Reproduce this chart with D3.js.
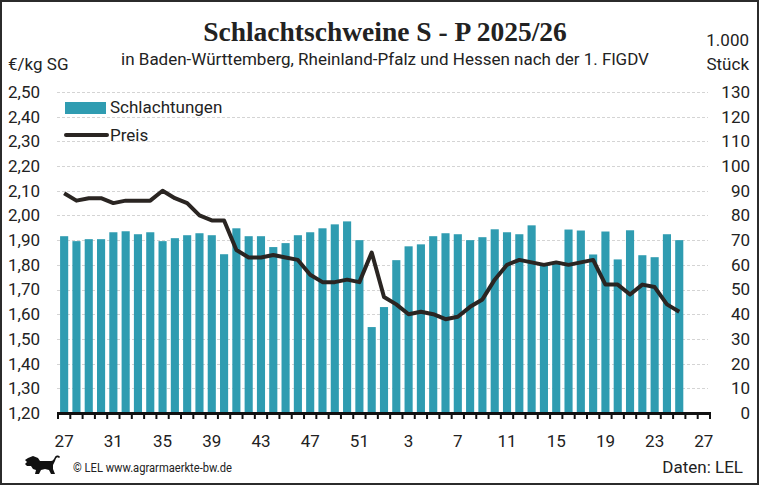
<!DOCTYPE html>
<html>
<head>
<meta charset="utf-8">
<script src="https://cdn.jsdelivr.net/npm/d3@7"></script>
<style>
  body { margin: 0; background: #fff; }
  svg { display: block; }
  text { font-family: Roboto, "Noto Sans", sans-serif; fill: #222; }
</style>
</head>
<body>
<div id="chart"></div>
<script>
// Kalenderwochen 27/2025 bis 27/2026
var weeks = ["27","28","29","30","31","32","33","34","35","36","37","38","39","40","41","42","43","44","45","46","47","48","49","50","51","52",
             "1","2","3","4","5","6","7","8","9","10","11","12","13","14","15","16","17","18","19","20","21","22","23","24","25","26","27"];

// Schlachtungen in 1.000 Stück
var schlachtungen = [71.6,69.6,70.4,70.4,73.2,73.6,72.4,73.2,69.6,70.8,72.0,72.8,72.0,64.3,74.8,71.6,71.6,67.2,68.8,72.0,73.2,74.8,76.4,77.6,70.0,34.8,
                     42.9,61.9,67.5,68.3,71.6,72.8,72.4,70.0,71.2,74.4,73.2,72.4,76.0,60.0,61.3,74.3,73.9,64.2,73.5,62.2,74.0,63.9,63.1,72.4,70.0];

// Preis in Euro/kg SG
var preis = [2.09,2.06,2.07,2.07,2.05,2.06,2.06,2.06,2.10,2.07,2.05,2.00,1.98,1.98,1.86,1.83,1.83,1.84,1.83,1.82,1.76,1.73,1.73,1.74,1.73,1.85,
             1.67,1.64,1.60,1.61,1.60,1.58,1.59,1.63,1.66,1.74,1.80,1.82,1.81,1.80,1.81,1.80,1.81,1.82,1.72,1.72,1.68,1.72,1.71,1.64,1.61];

var leftTicks = [1.2,1.3,1.4,1.5,1.6,1.7,1.8,1.9,2.0,2.1,2.2,2.3,2.4,2.5];
var rightTicks = [0,10,20,30,40,50,60,70,80,90,100,110,120,130];
var xTickWeeks = ["27","31","35","39","43","47","51","3","7","11","15","19","23","27"];

var width = 759, height = 485;
var plotLeft = 58, plotRight = 710, plotTop = 92, plotBottom = 413;
var fs = "17px";

var svg = d3.select("#chart").append("svg")
  .attr("width", width).attr("height", height);

svg.append("rect")
  .attr("x", 1).attr("y", 1).attr("width", width - 2).attr("height", height - 2)
  .attr("fill", "#fff").attr("stroke", "#2b2b2b").attr("stroke-width", 2);

var x = d3.scaleBand()
  .domain(d3.range(weeks.length))
  .range([plotLeft, plotRight])
  .paddingInner(0.34).paddingOuter(0.17);

var yLeft = d3.scaleLinear().domain([1.2, 2.5]).range([plotBottom, plotTop]);
var yRight = d3.scaleLinear().domain([0, 130]).range([plotBottom, plotTop]);

// gridlines
svg.append("g").selectAll("line")
  .data(leftTicks.slice(1))
  .enter().append("line")
  .attr("x1", plotLeft - 1).attr("x2", plotRight - 2)
  .attr("y1", function(d) { return Math.round(yLeft(d)) + 0.5; })
  .attr("y2", function(d) { return Math.round(yLeft(d)) + 0.5; })
  .attr("stroke", "#d4d4d4").attr("stroke-width", 1)
  .attr("stroke-dasharray", "3,2");

// left axis labels
var leftAxis = d3.axisLeft(yLeft).tickValues(leftTicks).tickSize(0).tickPadding(0)
  .tickFormat(function(d) { return d3.format(".2f")(d).replace(".", ","); });
var gl = svg.append("g").attr("transform", "translate(40,0)").call(leftAxis);
gl.select(".domain").remove();
gl.selectAll("text").style("font-size", fs).attr("fill", "#222").style("font-family", "Roboto, sans-serif");

// right axis labels
var rightAxis = d3.axisRight(yRight).tickValues(rightTicks).tickSize(0).tickPadding(0);
var gr = svg.append("g").attr("transform", "translate(750,0)").call(rightAxis);
gr.select(".domain").remove();
gr.selectAll("text").attr("text-anchor", "end").style("font-size", fs).attr("fill", "#222").style("font-family", "Roboto, sans-serif");

// bars
svg.append("g").selectAll("rect")
  .data(schlachtungen)
  .enter().append("rect")
  .attr("x", function(d, i) { return x(i); })
  .attr("width", x.bandwidth())
  .attr("y", function(d) { return yRight(d); })
  .attr("height", function(d) { return plotBottom - yRight(d); })
  .attr("fill", "#2f9cb1");

// price line
var line = d3.line()
  .x(function(d, i) { return x(i) + x.bandwidth() / 2; })
  .y(function(d) { return yLeft(d); });

svg.append("path")
  .datum(preis)
  .attr("d", line)
  .attr("fill", "none")
  .attr("stroke", "#2a2522")
  .attr("stroke-width", 4)
  .attr("stroke-linejoin", "round");

// x axis
var step = x.step();
var edges = d3.range(weeks.length + 1).map(function(i) { return plotLeft + i * step; });
svg.append("g").selectAll("line")
  .data(edges)
  .enter().append("line")
  .attr("x1", function(d) { return d; }).attr("x2", function(d) { return d; })
  .attr("y1", plotBottom).attr("y2", plotBottom + 6)
  .attr("stroke", "#111").attr("stroke-width", 2);
svg.append("line")
  .attr("x1", plotLeft - 1).attr("x2", plotRight + 1)
  .attr("y1", plotBottom + 0.5).attr("y2", plotBottom + 0.5)
  .attr("stroke", "#111").attr("stroke-width", 3);

var tickIdx = d3.range(0, weeks.length, 4);
svg.append("g").selectAll("text")
  .data(tickIdx)
  .enter().append("text")
  .attr("x", function(d) { return x(d) + x.bandwidth() / 2; })
  .attr("y", 447)
  .attr("text-anchor", "middle")
  .style("font-size", fs)
  .text(function(d, i) { return xTickWeeks[i]; });

// titles
svg.append("text")
  .attr("x", 385).attr("y", 41)
  .attr("text-anchor", "middle")
  .style("font-family", "'Liberation Serif', 'DejaVu Serif', serif")
  .style("font-weight", "bold")
  .style("font-size", "27.5px")
  .attr("fill", "#222")
  .text("Schlachtschweine S - P 2025/26");

svg.append("text")
  .attr("x", 385).attr("y", 65)
  .attr("text-anchor", "middle")
  .style("font-size", fs)
  .text("in Baden-Württemberg, Rheinland-Pfalz und Hessen nach der 1. FlGDV");

svg.append("text").attr("x", 8).attr("y", 70).style("font-size", fs).text("€/kg SG");
svg.append("text").attr("x", 749).attr("y", 46).attr("text-anchor", "end").style("font-size", fs).text("1.000");
svg.append("text").attr("x", 749).attr("y", 70).attr("text-anchor", "end").style("font-size", fs).text("Stück");

// legend
svg.append("rect").attr("x", 65).attr("y", 102).attr("width", 41).attr("height", 12).attr("fill", "#2f9cb1");
svg.append("text").attr("x", 110).attr("y", 113).style("font-size", fs).text("Schlachtungen");
svg.append("line").attr("x1", 66).attr("x2", 107).attr("y1", 135).attr("y2", 135)
  .attr("stroke", "#2a2522").attr("stroke-width", 4).attr("stroke-linecap", "round");
svg.append("text").attr("x", 110).attr("y", 141).style("font-size", fs).text("Preis");

// footer: Loewe-Logo (grob)
var lion = svg.append("g").attr("transform", "translate(25,455)");
lion.append("path")
  .attr("d", "M3,3 L8,1 L13,3 L15,6 L26,6 C28,6 29,4 30,2 C31,0 34,0 35,2 L34,3 C32,1 31,3 30,6 L28,10 L28,14 L30,19 L26,19 L24,15 L20,14 L16,15 L14,19 L10,19 L11,15 L8,14 L6,11 L2,11 L0,9 L2,7 L0,5 Z")
  .attr("fill", "#111");

svg.append("text")
  .attr("x", 73).attr("y", 472)
  .attr("transform", "translate(73,0) scale(0.86,1) translate(-73,0)")
  .style("font-size", "13px")
  .text("© LEL www.agrarmaerkte-bw.de");

svg.append("text")
  .attr("x", 743).attr("y", 473)
  .attr("text-anchor", "end")
  .style("font-size", fs)
  .text("Daten: LEL");
</script>
</body>
</html>
